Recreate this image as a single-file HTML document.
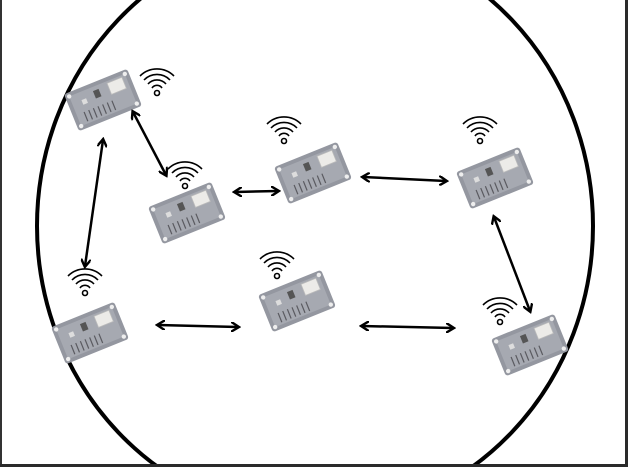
<!DOCTYPE html>
<html><head><style>
html,body{margin:0;padding:0;background:#fff}
body{width:628px;height:467px;overflow:hidden}
svg{display:block}
</style></head><body>
<svg width="628" height="467" viewBox="0 0 628 467" xmlns="http://www.w3.org/2000/svg">
<defs>
<marker id="ah" markerWidth="10" markerHeight="10" refX="7" refY="5" orient="auto-start-reverse" markerUnits="userSpaceOnUse">
<path d="M0,0 L8,5 L0,10" fill="none" stroke="#000" stroke-width="2.4"/>
</marker>
<g id="board">
<rect x="-34" y="-20" width="68" height="40" rx="3" fill="#9497a0"/>
<rect x="-30" y="-16" width="60" height="32" rx="2" fill="#a6a9b1"/>
<rect x="10" y="-14" width="16" height="12" fill="#ecebe8" stroke="#bbb" stroke-width="0.8"/>
<g stroke="#5a5a60" stroke-width="1.2">
<line x1="-22" y1="4" x2="-22" y2="14"/><line x1="-17" y1="4" x2="-17" y2="14"/><line x1="-12" y1="4" x2="-12" y2="14"/><line x1="-7" y1="4" x2="-7" y2="14"/><line x1="-2" y1="4" x2="-2" y2="14"/><line x1="3" y1="4" x2="3" y2="14"/><line x1="8" y1="4" x2="8" y2="14"/>
</g>
<rect x="-6" y="-12" width="6" height="8" fill="#555"/>
<rect x="-20" y="-8" width="5" height="5" fill="#ddd"/>
<circle cx="-30" cy="-16" r="2.2" fill="#eee"/><circle cx="30" cy="-16" r="2.2" fill="#eee"/>
<circle cx="-30" cy="16" r="2.2" fill="#eee"/><circle cx="30" cy="16" r="2.2" fill="#eee"/>
</g>
<g id="wifi" fill="none" stroke="#000" stroke-width="1.6">
<path d="M-17,-6 A24,24 0 0 1 17,-6"/>
<path d="M-13,-2 A18,18 0 0 1 13,-2"/>
<path d="M-9,2 A12,12 0 0 1 9,2"/>
<path d="M-5,6 A6,6 0 0 1 5,6"/>
<circle cx="0" cy="11" r="2.5"/>
</g>
</defs>
<ellipse cx="315" cy="226" rx="278" ry="292" fill="none" stroke="#000" stroke-width="4"/>
<g transform="translate(103,100) rotate(-22)"><use href="#board"/></g>
<g transform="translate(187,213) rotate(-22)"><use href="#board"/></g>
<g transform="translate(313,173) rotate(-22)"><use href="#board"/></g>
<g transform="translate(495,178) rotate(-22)"><use href="#board"/></g>
<g transform="translate(90,333) rotate(-22)"><use href="#board"/></g>
<g transform="translate(297,301) rotate(-22)"><use href="#board"/></g>
<g transform="translate(530,345) rotate(-22)"><use href="#board"/></g>
<use href="#wifi" x="157" y="82"/>
<use href="#wifi" x="185" y="175"/>
<use href="#wifi" x="284" y="130"/>
<use href="#wifi" x="480" y="130"/>
<use href="#wifi" x="85" y="282"/>
<use href="#wifi" x="277" y="265"/>
<use href="#wifi" x="500" y="311"/>
<g stroke="#000" stroke-width="2.5" marker-start="url(#ah)" marker-end="url(#ah)">
<line x1="133" y1="112" x2="166" y2="175"/>
<line x1="103" y1="140" x2="85" y2="266"/>
<line x1="235" y1="192" x2="278" y2="191"/>
<line x1="363" y1="177" x2="446" y2="181"/>
<line x1="158" y1="325" x2="238" y2="327"/>
<line x1="362" y1="326" x2="453" y2="328"/>
<line x1="494" y1="217" x2="530" y2="311"/>
</g>
<rect x="0" y="0" width="2" height="467" fill="#333"/>
<rect x="625" y="0" width="3" height="467" fill="#2a2a2a"/>
<rect x="0" y="464" width="628" height="3" fill="#2a2a2a"/>
</svg>
</body></html>
